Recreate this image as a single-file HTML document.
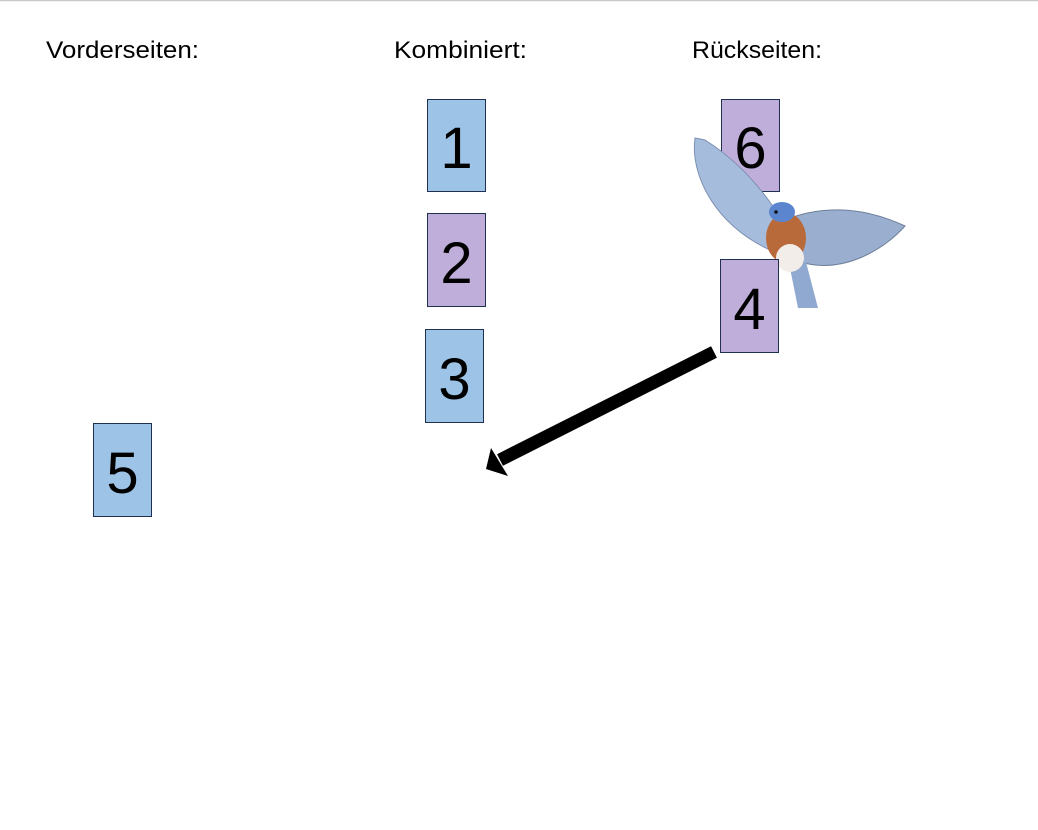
<!DOCTYPE html>
<html><head><meta charset="utf-8"><style>
html,body{margin:0;padding:0;background:#fff;width:1038px;height:830px;overflow:hidden}
svg{display:block}
text{font-family:"Liberation Sans",sans-serif}
</style></head><body>
<svg width="1038" height="830" viewBox="0 0 1038 830">
<line x1="0" y1="0.5" x2="1038" y2="0.5" stroke="#c8c8c8" stroke-width="1.5"/>
<text x="46" y="58" font-size="24" textLength="153" lengthAdjust="spacingAndGlyphs" fill="#000">Vorderseiten:</text>
<text x="394" y="58" font-size="24" textLength="133" lengthAdjust="spacingAndGlyphs" fill="#000">Kombiniert:</text>
<text x="692" y="58" font-size="24" textLength="130" lengthAdjust="spacingAndGlyphs" fill="#000">Rückseiten:</text>

<g><rect x="427.5" y="99.5" width="58" height="92" fill="#9DC3E6" stroke="#1F3050"/><text x="456.5" y="168" font-size="58" text-anchor="middle">1</text></g>
<g><rect x="427.5" y="213.5" width="58" height="93" fill="#C0AEDA" stroke="#1F3050"/><text x="456.5" y="283" font-size="58" text-anchor="middle">2</text></g>
<g><rect x="425.5" y="329.5" width="58" height="93" fill="#9DC3E6" stroke="#1F3050"/><text x="454.5" y="399" font-size="58" text-anchor="middle">3</text></g>
<g><rect x="93.5" y="423.5" width="58" height="93" fill="#9DC3E6" stroke="#1F3050"/><text x="122.5" y="493" font-size="58" text-anchor="middle">5</text></g>
<g><rect x="721.5" y="99.5" width="58" height="92" fill="#C0AEDA" stroke="#1F3050"/><text x="750.5" y="168" font-size="58" text-anchor="middle">6</text></g>

<g>
<path d="M695 138 C690 175 715 225 770 250 L785 225 C770 200 745 165 705 140 Z" fill="#a6bcdc" stroke="#7d90b0" stroke-width="1"/>
<path d="M780 222 C830 200 875 212 905 226 C885 248 845 275 800 262 Z" fill="#9aafd0" stroke="#6e7f9a" stroke-width="1"/>
<path d="M790 268 L798 308 L818 308 L806 262 Z" fill="#8fa9d0"/>
<ellipse cx="786" cy="238" rx="20" ry="25" fill="#b86a3a"/>
<ellipse cx="790" cy="258" rx="14" ry="14" fill="#f2ede8"/>
<ellipse cx="782" cy="212" rx="13" ry="10" fill="#5b86cf"/>
<circle cx="776" cy="212" r="1.8" fill="#111"/>
</g>

<g><rect x="720.5" y="259.5" width="58" height="93" fill="#C0AEDA" stroke="#1F3050"/><text x="749.5" y="329" font-size="58" text-anchor="middle">4</text></g>

<g>
<line x1="714" y1="352" x2="500" y2="460" stroke="#000" stroke-width="13"/>
<polygon points="486,469 491,448 508,476" fill="#000"/>
</g>
</svg>
</body></html>
